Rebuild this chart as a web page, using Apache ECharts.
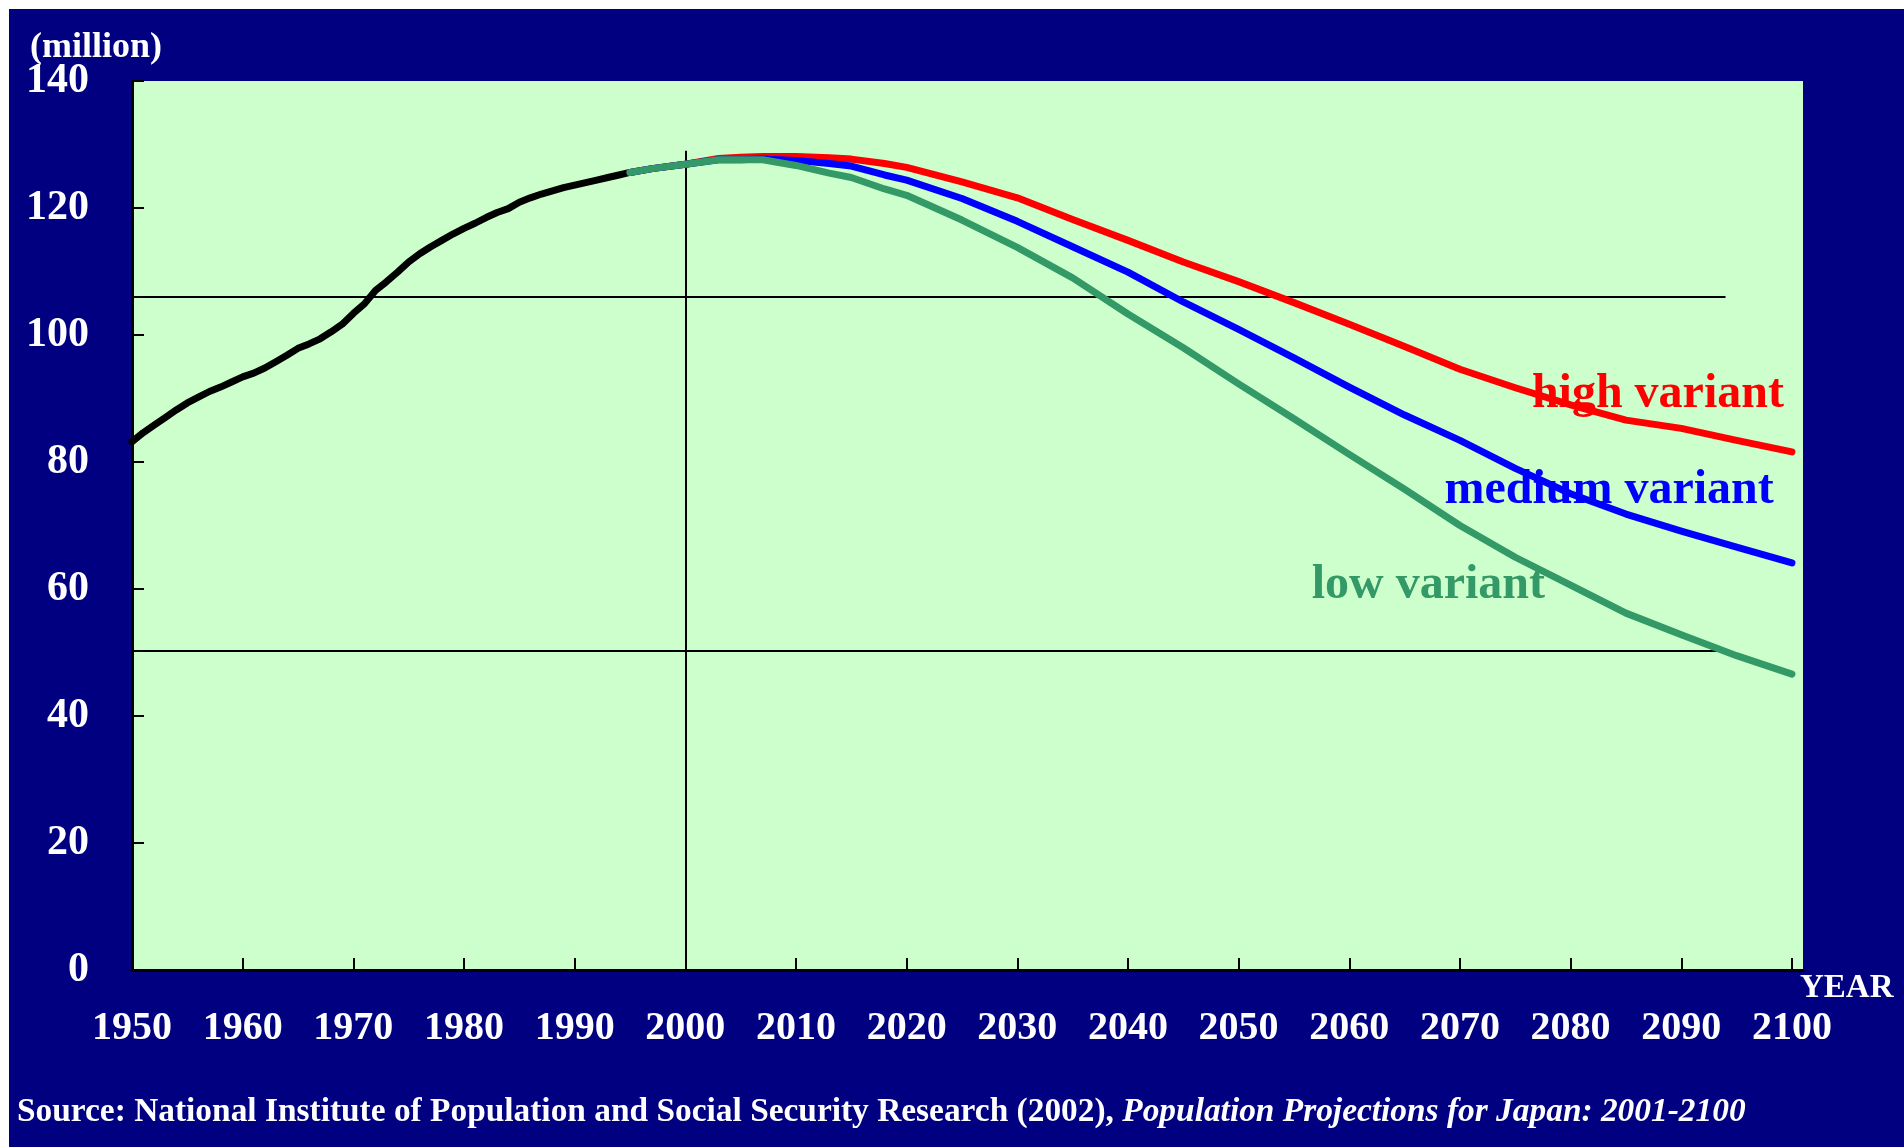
<!DOCTYPE html>
<html>
<head>
<meta charset="utf-8">
<title>Population Projections for Japan</title>
<script src="https://cdn.jsdelivr.net/npm/echarts@6/dist/echarts.min.js"></script>
<style>
  html, body { margin: 0; padding: 0; background: #fff; }
  #chart { position: absolute; left: 9px; top: 9px; width: 1895px; height: 1138px; background: #000080; }
</style>
</head>
<body>
<div id="chart"></div>
<script>
// 実績 1950-1995 (million)
const histYears = [1950, 1951, 1952, 1953, 1954, 1955, 1956, 1957, 1958, 1959,
    1960, 1961, 1962, 1963, 1964, 1965, 1966, 1967, 1968, 1969,
    1970, 1971, 1972, 1973, 1974, 1975, 1976, 1977, 1978, 1979,
    1980, 1981, 1982, 1983, 1984, 1985, 1986, 1987, 1988, 1989,
    1990, 1991, 1992, 1993, 1994, 1995];
const histValues = [83.2, 84.6, 85.8, 87.0, 88.2, 89.3, 90.2, 91.1, 91.8, 92.6,
    93.4, 94.0, 94.8, 95.8, 96.8, 97.9, 98.6, 99.4, 100.5, 101.7,
    103.4, 104.9, 107.0, 108.4, 109.9, 111.5, 112.8, 113.9, 114.9, 115.9,
    116.8, 117.6, 118.5, 119.3, 119.9, 120.9, 121.6, 122.2, 122.7, 123.2,
    123.6, 124.0, 124.4, 124.8, 125.2, 125.6];

// 推計 (high / medium / low variant)
const projYears = [1995, 1997, 2000, 2003, 2005, 2007, 2010, 2013, 2015, 2018,
    2020, 2025, 2030, 2035, 2040, 2045, 2050, 2055, 2060, 2065,
    2070, 2075, 2080, 2085, 2090, 2095, 2100];
const highValues = [125.6, 126.2, 126.9, 127.8, 128.0, 128.1, 128.1, 127.9, 127.7, 127.0,
    126.4, 124.1, 121.6, 118.2, 114.9, 111.5, 108.4, 105.1, 101.7, 98.2,
    94.6, 91.7, 89.0, 86.6, 85.3, 83.4, 81.6];
const mediumValues = [125.6, 126.2, 126.9, 127.6, 127.6, 127.7, 127.5, 127.0, 126.6, 125.2,
    124.4, 121.5, 117.9, 113.9, 109.9, 105.2, 100.9, 96.4, 91.8, 87.4,
    83.4, 79.0, 75.0, 71.8, 69.1, 66.6, 64.1];
const lowValues = [125.6, 126.2, 126.9, 127.6, 127.6, 127.6, 126.7, 125.5, 124.8, 123.0,
    122.0, 118.1, 113.8, 109.0, 103.3, 98.0, 92.3, 86.8, 81.2, 75.7,
    70.0, 65.0, 60.6, 56.2, 52.8, 49.5, 46.6];

const tickYears = [1950, 1960, 1970, 1980, 1990, 2000, 2010, 2020, 2030, 2040,
    2050, 2060, 2070, 2080, 2090, 2100];
const variantNames = ['high variant', 'medium variant', 'low variant'];
// 補助線
const refLevels = [106.0, 50.3];
const refLineEndYear = 2094;
const refYear = 2000;
const refYearTop = 129;

const FONT = '"Liberation Serif", "Times New Roman", serif';
const toPairs = (xs, ys) => xs.map((x, i) => [x, ys[i]]);

const chart = echarts.init(document.getElementById('chart'));

const lineStyleOf = (color) => ({ color: color, width: 7, cap: 'round', join: 'round' });
const variantLabel = (name, color, coord) => ({
    symbol: 'circle',
    symbolSize: 0,
    silent: true,
    label: {
        show: true,
        position: 'right',
        distance: 0,
        formatter: name,
        color: color,
        fontFamily: FONT,
        fontWeight: 'bold',
        fontSize: 48
    },
    data: [{ coord: coord }]
});

const option = {
    animation: false,
    backgroundColor: '#000080',
    title: [
        {
            text: '(million)',
            left: 16,
            top: 16,
            textStyle: { color: '#fff', fontFamily: FONT, fontWeight: 'bold', fontSize: 36 }
        },
        {
            text: 'YEAR',
            left: 1786,
            top: 958,
            textStyle: { color: '#fff', fontFamily: FONT, fontWeight: 'bold', fontSize: 33 }
        },
        {
            text: '{b|Source: National Institute of Population and Social Security Research (2002), }{i|Population Projections for Japan: 2001-2100}',
            left: 3,
            top: 1082,
            textStyle: {
                rich: {
                    b: { color: '#fff', fontFamily: FONT, fontWeight: 'bold', fontSize: 33.4 },
                    i: { color: '#fff', fontFamily: FONT, fontWeight: 'bold', fontStyle: 'italic', fontSize: 33.4 }
                }
            }
        }
    ],
    grid: {
        left: 123,
        top: 72,
        right: 101,
        bottom: 177,
        show: true,
        backgroundColor: '#CCFFCC',
        borderWidth: 0
    },
    xAxis: {
        type: 'value',
        min: 1950,
        max: 2101,
        interval: 10,
        splitLine: { show: false },
        axisLine: { show: true, lineStyle: { color: '#000', width: 3 } },
        axisTick: { show: true, inside: true, length: 12, customValues: tickYears, lineStyle: { color: '#000', width: 2 } },
        axisLabel: {
            customValues: tickYears,
            formatter: (v) => String(v),
            color: '#fff',
            fontFamily: FONT,
            fontWeight: 'bold',
            fontSize: 40,
            margin: 39
        }
    },
    yAxis: {
        type: 'value',
        min: 0,
        max: 140,
        interval: 20,
        splitLine: { show: false },
        axisLine: { show: true, lineStyle: { color: '#000', width: 3 } },
        axisTick: { show: true, inside: true, length: 12, lineStyle: { color: '#000', width: 2 } },
        axisLabel: {
            color: '#fff',
            fontFamily: FONT,
            fontWeight: 'bold',
            fontSize: 42,
            margin: 43
        }
    },
    series: [
        {
            name: 'actual',
            type: 'line',
            symbol: 'none',
            lineStyle: lineStyleOf('#000000'),
            data: toPairs(histYears, histValues),
            markLine: {
                silent: true,
                z: 1,
                symbol: ['none', 'none'],
                label: { show: false },
                lineStyle: { color: '#000', width: 2, type: 'solid' },
                data: refLevels.map(v => [{ coord: [1950, v] }, { coord: [refLineEndYear, v] }])
                    .concat([[{ coord: [refYear, 0] }, { coord: [refYear, refYearTop] }]])
            }
        },
        {
            name: variantNames[0],
            type: 'line',
            symbol: 'none',
            lineStyle: lineStyleOf('#FF0000'),
            data: toPairs(projYears, highValues),
            markPoint: variantLabel(variantNames[0], '#FF0000', [2076.5, 90.6])
        },
        {
            name: variantNames[1],
            type: 'line',
            symbol: 'none',
            lineStyle: lineStyleOf('#0000FF'),
            data: toPairs(projYears, mediumValues),
            markPoint: variantLabel(variantNames[1], '#0000FF', [2068.6, 75.5])
        },
        {
            name: variantNames[2],
            type: 'line',
            symbol: 'none',
            lineStyle: lineStyleOf('#339966'),
            data: toPairs(projYears, lowValues),
            markPoint: variantLabel(variantNames[2], '#339966', [2056.6, 60.5])
        }
    ]
};
chart.setOption(option);
</script>
</body>
</html>
